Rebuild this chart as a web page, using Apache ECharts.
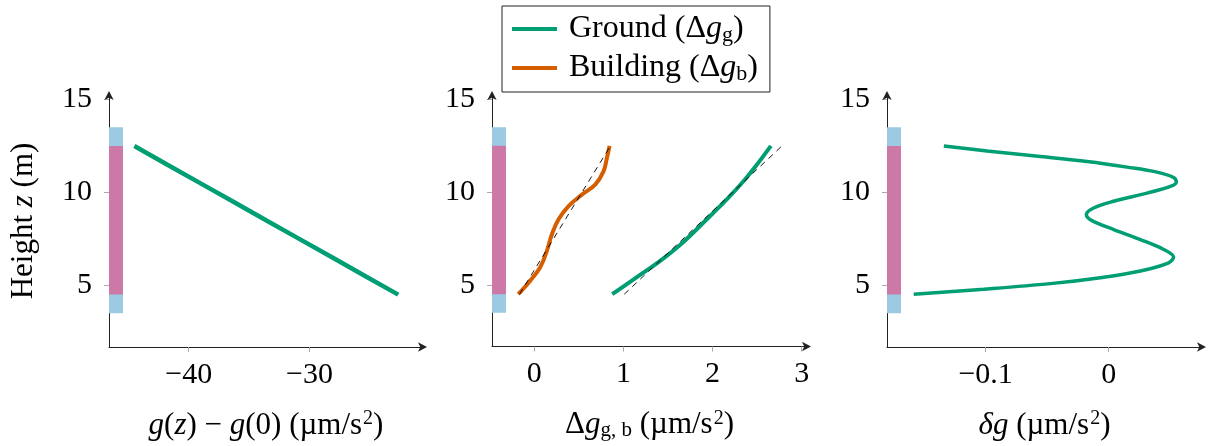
<!DOCTYPE html>
<html>
<head>
<meta charset="utf-8">
<script src="https://cdn.jsdelivr.net/npm/echarts@6/dist/echarts.min.js"></script>
<style>
  html, body { margin: 0; padding: 0; background: #fff; }
  #chart { width: 1225px; height: 446px; }
</style>
</head>
<body>
<div id="chart"></div>
<script>
// ---------- data ----------
const yTicks = [5, 10, 15];
const p1Ticks = [-40, -30];
const p2Ticks = [0, 1, 2, 3];
const p3Ticks = [-0.1, 0];

// building extent bars (height ranges, m)
const outerBand = [3.5, 13.5];
const innerBand = [4.5, 12.5];

// panel 1: g(z) - g(0)
const p1Z = [4.5, 5.5, 6.5, 7.5, 8.5, 9.5, 10.5, 11.5, 12.5];
const p1G = [-22.65, -25.4, -28.1, -30.85, -33.6, -36.3, -39.05, -41.8, -44.5];

// panel 2: ground
const groundZ = [4.5, 5.42, 6.3, 7.32, 8.54, 9.61, 10.59, 11.48, 12.5];
const groundDg = [0.875, 1.151, 1.413, 1.674, 1.936, 2.16, 2.347, 2.497, 2.655];
// panel 2: building
const buildZ = [4.5, 5.23, 5.95, 6.84, 7.73, 8.54, 9.25, 9.87, 10.41, 11.12, 11.84, 12.5];
const buildDg = [-0.18, -0.045, 0.067, 0.142, 0.198, 0.273, 0.385, 0.535, 0.684, 0.777, 0.815, 0.845];
// linear fits (dashed)
const groundFitZ = [4.5, 12.5];
const groundFitDg = [1.01, 2.78];
const buildFitZ = [4.5, 12.5];
const buildFitDg = [-0.165, 0.855];

// panel 3: delta g residual
const p3Z = [4.52, 4.79, 5.09, 5.41, 5.77, 6.21, 6.52, 6.93, 7.46, 8.0, 8.48, 8.8, 9.16, 9.52, 9.96, 10.32, 10.55, 10.8, 11.09, 11.36, 11.66, 11.93, 12.23, 12.5];
const p3D = [-0.1585, -0.1016, -0.0474, -0.0067, 0.0258, 0.0488, 0.0528, 0.0447, 0.0258, 0.0041, -0.0135, -0.0181, -0.0122, 0.0041, 0.0312, 0.0502, 0.055, 0.0528, 0.0393, 0.015, -0.0176, -0.0555, -0.0989, -0.134];

// ---------- helpers ----------
const F = 'Liberation Serif';
const GREEN = '#009E73', ORANGE = '#D55E00', PINK = '#CC79A7', LBLUE = '#9DCAE3';
const zip = (xs, ys) => xs.map((x, i) => [x, ys[i]]);
const fmtNum = v => (v < 0 ? '\u2212' + String(-v) : String(v));

const TF = 31;
const rich = {
  n: { fontFamily: F, fontSize: TF, color: '#000' },
  i: { fontFamily: F, fontSize: TF, fontStyle: 'italic', color: '#000' },
  sup: { fontFamily: F, fontSize: 20, color: '#000', padding: [0, 0, 13, 1] },
  sub: { fontFamily: F, fontSize: 21, color: '#000', padding: [11, 0, 0, 0] }
};

const gridTop = 95, gridH = 253;
const grids = [
  { left: 109, top: gridTop, width: 314, height: gridH },
  { left: 492, top: gridTop, width: 315, height: gridH },
  { left: 887, top: gridTop, width: 315, height: gridH }
];
const xRanges = [[-46.6, -20.6], [-0.474, 3.06], [-0.1802, 0.0759]];
const xTicks = [p1Ticks, p2Ticks, p3Ticks];
const xNames = [
  '{i|g}{n|(}{i|z}{n|) \u2212 }{i|g}{n|(0) (µm/s}{sup|2}{n|)}',
  '{n|Δ}{i|g}{sub|g, b}{n| (µm/s}{sup|2}{n|)}',
  '{i|δg}{n| (µm/s}{sup|2}{n|)}'
];

const axisLineStyle = { color: '#222', width: 1 };
const xAxes = xRanges.map((r, k) => ({
  type: 'value', gridIndex: k, min: r[0], max: r[1],
  splitLine: { show: false },
  axisLine: { show: true, onZero: false, lineStyle: axisLineStyle, symbol: ['none', 'arrow'], symbolSize: [7, 9], symbolOffset: [0, 4] },
  axisTick: { show: true, length: 5, lineStyle: { color: '#aaa' }, customValues: xTicks[k] },
  axisLabel: { customValues: xTicks[k], formatter: fmtNum, fontFamily: F, fontSize: 30, color: '#000', margin: 13 },
  name: xNames[k], nameLocation: 'middle', nameGap: 62,
  nameTextStyle: { rich: rich }
}));
const yAxes = [0, 1, 2].map(k => ({
  type: 'value', gridIndex: k, min: 1.68, max: 15.24,
  splitLine: { show: false },
  axisLine: { show: true, onZero: false, lineStyle: axisLineStyle, symbol: ['none', 'arrow'], symbolSize: [7, 9], symbolOffset: [0, 4] },
  axisTick: { show: true, length: 5, lineStyle: { color: '#aaa' }, customValues: yTicks },
  axisLabel: { customValues: yTicks, fontFamily: F, fontSize: 30, color: '#000', margin: 17 },
  name: k === 0 ? '{n|Height }{i|z}{n| (m)}' : '',
  nameLocation: 'middle', nameRotate: 90, nameGap: 70,
  nameTextStyle: { rich: rich }
}));

function bandSeries(k, band, color, z) {
  return {
    type: 'custom', xAxisIndex: k, yAxisIndex: k, z: z, silent: true,
    clip: false,
    data: [band],
    encode: { y: [0, 1] },
    renderItem: function (params, api) {
      const cs = params.coordSys;
      const y0 = api.coord([xRanges[k][0], api.value(0)])[1];
      const y1 = api.coord([xRanges[k][0], api.value(1)])[1];
      return { type: 'rect', shape: { x: cs.x, y: y1, width: 14, height: y0 - y1 }, style: { fill: color } };
    }
  };
}

const series = [];
for (let k = 0; k < 3; k++) {
  series.push(bandSeries(k, outerBand, LBLUE, 3));
  series.push(bandSeries(k, innerBand, PINK, 4));
}
series.push({
  name: 'gz', type: 'line', xAxisIndex: 0, yAxisIndex: 0, data: zip(p1G, p1Z),
  showSymbol: false, symbol: 'none', lineStyle: { color: GREEN, width: 4.5 }, z: 5
});
series.push({
  name: 'Ground', type: 'line', xAxisIndex: 1, yAxisIndex: 1, data: zip(groundDg, groundZ),
  showSymbol: false, symbol: 'none', smooth: 0.3, color: GREEN, lineStyle: { color: GREEN, width: 4 }, z: 5
});
series.push({
  name: 'Building', type: 'line', xAxisIndex: 1, yAxisIndex: 1, data: zip(buildDg, buildZ),
  showSymbol: false, symbol: 'none', smooth: 0.4, color: ORANGE, lineStyle: { color: ORANGE, width: 4 }, z: 5
});
series.push({
  name: 'gfit', type: 'line', xAxisIndex: 1, yAxisIndex: 1, data: zip(groundFitDg, groundFitZ),
  showSymbol: false, symbol: 'none', lineStyle: { color: '#000', width: 0.9, type: [6, 5] }, z: 6
});
series.push({
  name: 'bfit', type: 'line', xAxisIndex: 1, yAxisIndex: 1, data: zip(buildFitDg, buildFitZ),
  showSymbol: false, symbol: 'none', lineStyle: { color: '#000', width: 0.9, type: [6, 5] }, z: 6
});
series.push({
  name: 'dg', type: 'line', xAxisIndex: 2, yAxisIndex: 2, data: zip(p3D, p3Z),
  showSymbol: false, symbol: 'none', smooth: 0.35, lineStyle: { color: GREEN, width: 3.5 }, z: 5
});

const legendNames = { Ground: '{n|Ground (Δ}{i|g}{sub|g}{n|)}', Building: '{n|Building (Δ}{i|g}{sub|b}{n|)}' };
const legendRich = {
  n: { fontFamily: F, fontSize: 32, color: '#000' },
  i: { fontFamily: F, fontSize: 32, fontStyle: 'italic', color: '#000' },
  sub: { fontFamily: F, fontSize: 22, color: '#000', padding: [12, 0, 0, 0] }
};

const chart = echarts.init(document.getElementById('chart'), null, { renderer: 'canvas' });
chart.setOption({
  animation: false,
  backgroundColor: '#fff',
  grid: grids,
  xAxis: xAxes,
  yAxis: yAxes,
  legend: {
    data: ['Ground', 'Building'],
    orient: 'vertical', left: 502, top: 6,
    icon: 'rect', itemWidth: 45, itemHeight: 4, itemGap: 6,
    padding: [7, 12, 7, 10],
    borderColor: '#222', borderWidth: 1,
    selectedMode: false,
    formatter: n => legendNames[n],
    textStyle: { rich: legendRich, padding: [0, 0, 0, 7] }
  },
  series: series
});
</script>
</body>
</html>
